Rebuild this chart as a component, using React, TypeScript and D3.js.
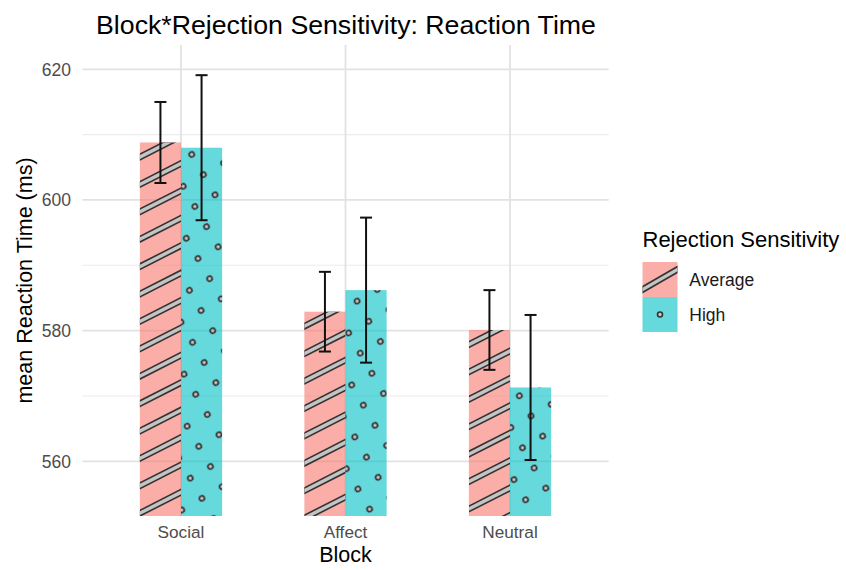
import React from "react";
import * as d3 from "d3";

const categories = ["Social", "Affect", "Neutral"];
const groups = ["Average", "High"];
const averageMeans = [608.8, 582.9, 580.1];
const averageSE = [6.2, 6.1, 6.1];
const highMeans = [608.0, 586.2, 571.3];
const highSE = [11.1, 11.1, 11.1];
const yTicks = [560, 580, 600, 620];
const yMinorTicks = [570, 590, 610];

const W = 846;
const H = 570;
const panel = { left: 82.3, right: 608.7, top: 45, bottom: 516 };
const FONT = "'Liberation Sans', Arial, Helvetica, sans-serif";
const fills = ["#F8766D", "#00BFC4"];
const STRIPE_ANGLE = 27;
const STRIPE_STEP = 27.4;
const DOT_SPACING = 23.3;
const STRIPE_OUTER = 6.6;
const STRIPE_INNER = 3.4;

export default function App() {
  const x = d3.scalePoint<string>().domain(categories).range([panel.left, panel.right]).padding(0.6);
  const step = x.step();
  const barW = step * 0.25;
  const y = d3.scaleLinear().domain([560, 620]).range([461.3, 69.3]);
  const t = Math.tan((STRIPE_ANGLE * Math.PI) / 180);

  const series = [
    { key: groups[0], means: averageMeans, se: averageSE },
    { key: groups[1], means: highMeans, se: highSE },
  ];

  const bars = series.flatMap((s, gi) =>
    categories.map((c, ci) => {
      const cx = x(c)!;
      const x0 = cx - barW + gi * barW;
      const x1 = x0 + barW;
      const top = y(s.means[ci]);
      return { gi, ci, x0, x1, top, bottom: panel.bottom, mean: s.means[ci], se: s.se[ci], id: `b${gi}${ci}` };
    })
  );

  const stripeLines = (x0: number, x1: number, top: number, bottom: number) => {
    const w = x1 - x0;
    const out: { xa: number; ya: number; xb: number; yb: number }[] = [];
    for (let yr = top + 21 - STRIPE_STEP * 3; yr < bottom + 10; yr += STRIPE_STEP) {
      out.push({ xa: x1 + 10, ya: yr - 10 * t, xb: x0 - 10, yb: yr + (w + 10) * t });
    }
    return out;
  };

  const legendX = 642.5;
  const keyW = 35;
  const keyH = 35;
  const legendY0 = 262;
  const lt = Math.tan((30 * Math.PI) / 180);

  return (
    <svg width={W} height={H} style={{ position: "absolute", left: 0, top: 0, background: "#fff" }} fontFamily={FONT}>
      <defs>
        <pattern
          id="dots"
          patternUnits="userSpaceOnUse"
          x={0}
          y={0}
          width={DOT_SPACING}
          height={DOT_SPACING}
          patternTransform={`translate(191.7 154.5) rotate(60) translate(${-DOT_SPACING / 2} ${-DOT_SPACING / 2})`}
        >
          <circle cx={DOT_SPACING / 2} cy={DOT_SPACING / 2} r={2.5} fill="#c8c8c8" stroke="#333333" strokeWidth={1.6} />
        </pattern>
        {bars.map((b) => (
          <clipPath id={`clip-${b.id}`} key={b.id}>
            <rect x={b.x0} y={b.top} width={b.x1 - b.x0} height={b.bottom - b.top} />
          </clipPath>
        ))}
        <clipPath id="clip-leg0">
          <rect x={legendX} y={legendY0} width={keyW} height={keyH} />
        </clipPath>
      </defs>

      {/* grid */}
      {yMinorTicks.map((v) => (
        <line key={`mn${v}`} x1={panel.left} x2={panel.right} y1={y(v)} y2={y(v)} stroke="#ececec" strokeWidth={1.1} />
      ))}
      {yTicks.map((v) => (
        <line key={`mj${v}`} x1={panel.left} x2={panel.right} y1={y(v)} y2={y(v)} stroke="#e2e2e2" strokeWidth={1.8} />
      ))}
      {categories.map((c) => (
        <line key={`vx${c}`} x1={x(c)} x2={x(c)} y1={panel.top} y2={panel.bottom} stroke="#e2e2e2" strokeWidth={1.8} />
      ))}

      {/* bars */}
      {bars.map((b) => (
        <g key={b.id}>
          <rect x={b.x0} y={b.top} width={b.x1 - b.x0} height={b.bottom - b.top} fill={fills[b.gi]} fillOpacity={0.6} />
          {b.gi === 0 ? (
            <g clipPath={`url(#clip-${b.id})`}>
              {stripeLines(b.x0, b.x1, b.top, b.bottom).map((l, i) => (
                <g key={i}>
                  <line x1={l.xa} y1={l.ya} x2={l.xb} y2={l.yb} stroke="#333333" strokeWidth={STRIPE_OUTER} />
                  <line x1={l.xa} y1={l.ya} x2={l.xb} y2={l.yb} stroke="#c4c4c4" strokeWidth={STRIPE_INNER} />
                </g>
              ))}
            </g>
          ) : (
            <rect x={b.x0} y={b.top} width={b.x1 - b.x0} height={b.bottom - b.top} fill="url(#dots)" />
          )}
        </g>
      ))}

      {/* error bars */}
      {bars.map((b) => {
        const cx = (b.x0 + b.x1) / 2;
        const yt = y(b.mean + b.se);
        const yb = y(b.mean - b.se);
        return (
          <g key={`e${b.id}`} stroke="#111111" strokeWidth={2}>
            <line x1={cx} x2={cx} y1={yt} y2={yb} />
            <line x1={cx - 6} x2={cx + 6} y1={yt} y2={yt} />
            <line x1={cx - 6} x2={cx + 6} y1={yb} y2={yb} />
          </g>
        );
      })}

      {/* axes text */}
      {yTicks.map((v) => (
        <text key={`yt${v}`} x={71} y={y(v)} dy="0.36em" textAnchor="end" fontSize={17.5} fill="#4d4d4d">
          {v}
        </text>
      ))}
      {categories.map((c) => (
        <text key={`xt${c}`} x={x(c)} y={538} textAnchor="middle" fontSize={17.2} fill="#4d4d4d">
          {c}
        </text>
      ))}
      <text x={(panel.left + panel.right) / 2} y={561.5} textAnchor="middle" fontSize={21.5} fill="#000">
        Block
      </text>
      <text transform={`translate(31.5 ${(panel.top + panel.bottom) / 2}) rotate(-90)`} textAnchor="middle" fontSize={21.5} fill="#000">
        mean Reaction Time (ms)
      </text>
      <text x={346} y={34} textAnchor="middle" fontSize={26.7} fill="#000">
        Block*Rejection Sensitivity: Reaction Time
      </text>

      {/* legend */}
      <text x={legendX} y={246.7} fontSize={22} fill="#000">
        Rejection Sensitivity
      </text>
      <rect x={legendX} y={legendY0} width={keyW} height={keyH} fill={fills[0]} fillOpacity={0.6} />
      <g clipPath="url(#clip-leg0)">
        <line x1={legendX - 5} y1={legendY0 + keyH / 2 + (keyW / 2 + 5) * lt} x2={legendX + keyW + 5} y2={legendY0 + keyH / 2 - (keyW / 2 + 5) * lt} stroke="#333333" strokeWidth={STRIPE_OUTER} />
        <line x1={legendX - 5} y1={legendY0 + keyH / 2 + (keyW / 2 + 5) * lt} x2={legendX + keyW + 5} y2={legendY0 + keyH / 2 - (keyW / 2 + 5) * lt} stroke="#c4c4c4" strokeWidth={STRIPE_INNER} />
      </g>
      <rect x={legendX} y={legendY0 + keyH} width={keyW} height={keyH} fill={fills[1]} fillOpacity={0.6} />
      <circle cx={legendX + keyW / 2} cy={legendY0 + keyH * 1.5} r={2.5} fill="#c8c8c8" stroke="#333333" strokeWidth={1.6} />
      {groups.map((g, i) => (
        <text key={g} x={689.3} y={legendY0 + keyH * (i + 0.5)} dy="0.36em" fontSize={17.5} fill="#1a1a1a">
          {g}
        </text>
      ))}
    </svg>
  );
}
